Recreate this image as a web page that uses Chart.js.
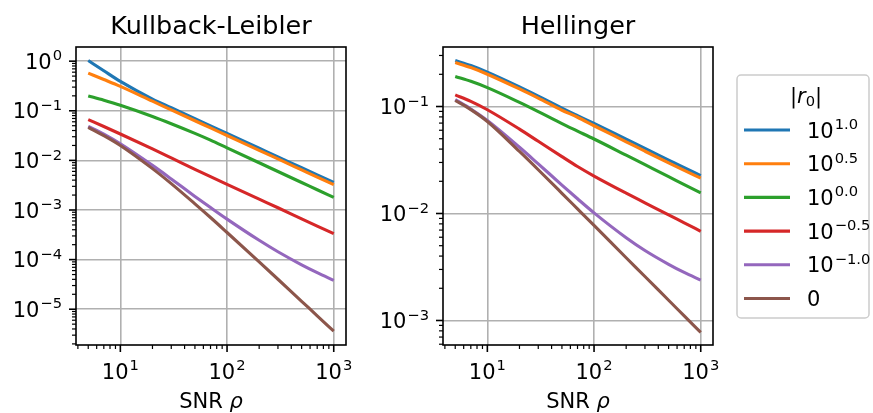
<!DOCTYPE html>
<html>
<head>
<meta charset="utf-8">
<script src="https://cdn.jsdelivr.net/npm/chart.js@4.4.1/dist/chart.umd.min.js"></script>
<style>
  html, body { margin: 0; padding: 0; background: #fff; }
  #wrap { position: relative; width: 873px; height: 413px; }
  #wrap canvas { position: absolute; top: 0; }
</style>
</head>
<body>
<div id="wrap">
  <canvas id="klChart" width="360" height="413" style="left:0"></canvas>
  <canvas id="helChart" width="513" height="413" style="left:360px"></canvas>
</div>
<script>
// SNR values shared by every curve
const snr = [5, 7, 10, 20, 30, 50, 70, 100, 200, 300, 500, 700, 1000];

// |r0| = 10^e for each curve, last one is r0 = 0
const r0Exponents = ['1.0', '0.5', '0.0', '\u22120.5', '\u22121.0', null];
const seriesColors = ['#1f77b4', '#ff7f0e', '#2ca02c', '#d62728', '#9467bd', '#8c564b'];

// Kullback-Leibler divergence
const klR10  = [1.03, 0.64, 0.39, 0.172, 0.115, 0.0693, 0.0496, 0.0349, 0.0176, 0.0118, 0.0071, 0.0051, 0.0036];
const klR05  = [0.573, 0.427, 0.310, 0.156, 0.1045, 0.063, 0.0451, 0.0317, 0.01596, 0.0107, 0.00644, 0.00461, 0.00324];
const klR00  = [0.1995, 0.163, 0.129, 0.0767, 0.0548, 0.035, 0.0256, 0.0179, 0.00895, 0.00597, 0.00358, 0.00256, 0.00179];
const klRm05 = [0.0664, 0.0482, 0.0340, 0.0170, 0.01122, 0.00662, 0.0047, 0.00329, 0.001656, 0.00111, 0.000665, 0.000475, 0.000333];
const klRm10 = [0.0486, 0.0338, 0.0216, 0.00793, 0.00423, 0.00188, 0.00112, 0.000655, 0.000245, 0.000144, 0.0000785, 0.0000546, 0.0000382];
const klR0   = [0.0465, 0.0316, 0.0200, 0.00682, 0.0034, 0.00133, 0.000705, 0.000352, 0.0000899, 0.0000402, 0.00001445, 0.00000738, 0.00000361];

// Hellinger distance
const helR10  = [0.269, 0.2415, 0.2094, 0.1524, 0.125, 0.0966, 0.0822, 0.0695, 0.0495, 0.0406, 0.0316, 0.0268, 0.0226];
const helR05  = [0.2576, 0.2312, 0.2004, 0.1459, 0.1197, 0.0923, 0.0794, 0.0661, 0.0468, 0.0382, 0.0297, 0.0253, 0.0214];
const helR00  = [0.191, 0.172, 0.1503, 0.1094, 0.0897, 0.0692, 0.0589, 0.0497, 0.0351, 0.0286, 0.0221, 0.0186, 0.0156];
const helRm05 = [0.1285, 0.1117, 0.0933, 0.0615, 0.0473, 0.034, 0.0275, 0.0224, 0.0155, 0.0126, 0.0097, 0.00818, 0.00682];
const helRm10 = [0.116, 0.0948, 0.074, 0.0416, 0.0291, 0.01845, 0.01374, 0.01014, 0.00594, 0.00451, 0.00335, 0.00281, 0.00238];
const helR0   = [0.1138, 0.0935, 0.0724, 0.038, 0.02564, 0.01545, 0.01104, 0.00773, 0.00386, 0.002576, 0.001545, 0.001104, 0.000773];

// axis limits
const xLimits = [3.84, 1303];
const klYLimits = [1.9e-6, 1.93];
const helYLimits = [5.9e-4, 0.36];

const FONT = '"DejaVu Sans", sans-serif';
const TEXT_PX = 21;
const SUP_PX = 14.7;

// decades as major ticks, 2..9 multiples as minor ticks
function logTicks(min, max) {
  const ticks = [];
  for (let e = Math.floor(Math.log10(min)); e <= Math.ceil(Math.log10(max)); e++) {
    for (let m = 1; m < 10; m++) {
      const v = m * Math.pow(10, e);
      if (v >= min && v <= max) ticks.push({ value: v, major: m === 1 });
    }
  }
  return ticks;
}

function expText(e) {
  return e < 0 ? '\u2212' + (-e) : String(e);
}

// "base^sup" in the style of mathtext
function drawPow(ctx, base, sup, x, y, align) {
  ctx.font = `${TEXT_PX}px ${FONT}`;
  const wb = ctx.measureText(base).width;
  ctx.font = `${SUP_PX}px ${FONT}`;
  const ws = sup ? ctx.measureText(sup).width + 1 : 0;
  const w = wb + ws;
  const left = align === 'right' ? x - w : align === 'center' ? x - w / 2 : x;
  ctx.textAlign = 'left';
  ctx.textBaseline = 'alphabetic';
  ctx.font = `${TEXT_PX}px ${FONT}`;
  ctx.fillText(base, left, y);
  if (sup) {
    ctx.font = `${SUP_PX}px ${FONT}`;
    ctx.fillText(sup, left + wb + 1, y - 8.5);
  }
}

function roundRect(ctx, x, y, w, h, r) {
  ctx.beginPath();
  ctx.moveTo(x + r, y);
  ctx.arcTo(x + w, y, x + w, y + h, r);
  ctx.arcTo(x + w, y + h, x, y + h, r);
  ctx.arcTo(x, y + h, x, y, r);
  ctx.arcTo(x, y, x + w, y, r);
  ctx.closePath();
}

function drawLegend(ctx, x0, y0) {
  const w = 132, h = 243;
  roundRect(ctx, x0, y0, w, h, 4);
  ctx.fillStyle = 'rgba(255,255,255,0.8)';
  ctx.fill();
  ctx.strokeStyle = '#cccccc';
  ctx.lineWidth = 1.5;
  ctx.stroke();

  // title |r_0|
  ctx.fillStyle = '#000';
  ctx.textAlign = 'left';
  ctx.textBaseline = 'alphabetic';
  const parts = [
    ['|', `${TEXT_PX}px ${FONT}`, 0],
    ['r', `italic ${TEXT_PX}px ${FONT}`, 0],
    ['0', `${SUP_PX}px ${FONT}`, 3],
    ['|', `${TEXT_PX}px ${FONT}`, 0]
  ];
  let tw = 0;
  parts.forEach(p => { ctx.font = p[1]; tw += ctx.measureText(p[0]).width; });
  let tx = x0 + w / 2 + 3 - tw / 2;
  parts.forEach(p => {
    ctx.font = p[1];
    ctx.fillText(p[0], tx, y0 + 28 + p[2]);
    tx += ctx.measureText(p[0]).width;
  });

  r0Exponents.forEach((e, i) => {
    const ly = y0 + 55 + i * 33.7;
    ctx.strokeStyle = seriesColors[i];
    ctx.lineWidth = 3.1;
    ctx.beginPath();
    ctx.moveTo(x0 + 7, ly);
    ctx.lineTo(x0 + 53, ly);
    ctx.stroke();
    ctx.fillStyle = '#000';
    if (e === null) drawPow(ctx, '0', null, x0 + 70, ly + 7.5, 'left');
    else drawPow(ctx, '10', e, x0 + 70, ly + 7.5, 'left');
  });
}

const decor = {
  id: 'decor',
  afterDraw(chart, args, opts) {
    const ctx = chart.ctx;
    const { left, right, top, bottom } = chart.chartArea;
    const xs = chart.scales.x, ys = chart.scales.y;
    ctx.save();
    ctx.strokeStyle = '#000';
    ctx.fillStyle = '#000';

    xs.ticks.forEach(t => {
      const px = xs.getPixelForValue(t.value);
      ctx.lineWidth = t.major ? 1.6 : 1.2;
      ctx.beginPath();
      ctx.moveTo(px, bottom);
      ctx.lineTo(px, bottom + (t.major ? 7 : 4));
      ctx.stroke();
      if (t.major) drawPow(ctx, '10', expText(Math.round(Math.log10(t.value))), px, bottom + 33.5, 'center');
    });
    ys.ticks.forEach(t => {
      const py = ys.getPixelForValue(t.value);
      ctx.lineWidth = t.major ? 1.6 : 1.2;
      ctx.beginPath();
      ctx.moveTo(left, py);
      ctx.lineTo(left - (t.major ? 7 : 4), py);
      ctx.stroke();
      if (t.major) drawPow(ctx, '10', expText(Math.round(Math.log10(t.value))), left - 14, py + 7.7, 'right');
    });

    ctx.lineWidth = 1.6;
    ctx.strokeRect(left, top, right - left, bottom - top);

    const cx = (left + right) / 2;
    ctx.font = `25.5px ${FONT}`;
    ctx.textAlign = 'center';
    ctx.textBaseline = 'alphabetic';
    ctx.fillText(opts.title, cx, 34);

    // x axis label: SNR rho
    ctx.font = `${TEXT_PX}px ${FONT}`;
    const w1 = ctx.measureText('SNR ').width;
    ctx.font = `italic ${TEXT_PX}px ${FONT}`;
    const w2 = ctx.measureText('\u03c1').width;
    const lx = cx - (w1 + w2) / 2;
    ctx.textAlign = 'left';
    ctx.font = `${TEXT_PX}px ${FONT}`;
    ctx.fillText('SNR ', lx, 408);
    ctx.font = `italic ${TEXT_PX}px ${FONT}`;
    ctx.fillText('\u03c1', lx + w1, 408);

    if (opts.legend) drawLegend(ctx, right + 24, 75);
    ctx.restore();
  }
};

function logAxis(limits) {
  return {
    type: 'logarithmic',
    min: limits[0],
    max: limits[1],
    afterBuildTicks: s => { s.ticks = logTicks(limits[0], limits[1]); },
    ticks: { display: false },
    border: { display: false },
    grid: {
      drawTicks: false,
      lineWidth: 1.6,
      color: c => (c.tick && c.tick.major ? '#b0b0b0' : 'rgba(0,0,0,0)')
    }
  };
}

function makeChart(id, series, yLimits, padding, title, legend) {
  const x = logAxis(xLimits);
  x.afterFit = s => { s.height = 0; };
  const y = logAxis(yLimits);
  y.afterFit = s => { s.width = 0; };
  return new Chart(document.getElementById(id), {
    type: 'line',
    data: {
      datasets: series.map((ys, i) => ({
        data: snr.map((v, j) => ({ x: v, y: ys[j] })),
        borderColor: seriesColors[i],
        borderWidth: 3.1,
        pointRadius: 0,
        fill: false,
        cubicInterpolationMode: 'monotone',
        order: series.length - i
      }))
    },
    options: {
      responsive: false,
      animation: false,
      events: [],
      layout: { padding },
      plugins: {
        legend: { display: false },
        tooltip: { enabled: false },
        decor: { title, legend }
      },
      scales: { x, y }
    },
    plugins: [decor]
  });
}

makeChart('klChart', [klR10, klR05, klR00, klRm05, klRm10, klR0], klYLimits,
  { left: 76, top: 47, right: 14, bottom: 68 }, 'Kullback-Leibler', false);
makeChart('helChart', [helR10, helR05, helR00, helRm05, helRm10, helR0], helYLimits,
  { left: 83, top: 47, right: 160, bottom: 68 }, 'Hellinger', true);
</script>
</body>
</html>
